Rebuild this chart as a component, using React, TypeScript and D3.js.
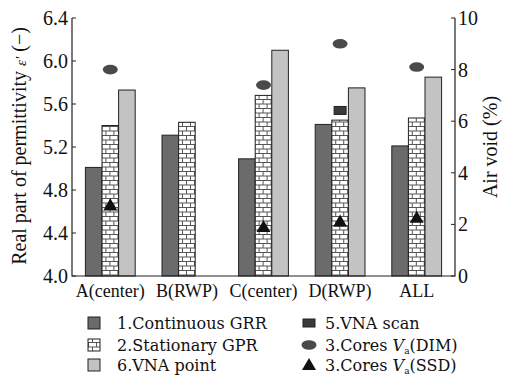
import * as React from 'react';
import * as d3 from 'd3';

const groups = ['A(center)', 'B(RWP)', 'C(center)', 'D(RWP)', 'ALL'];
const continuousGRR = [5.01, 5.31, 5.09, 5.41, 5.21];
const stationaryGPR = [5.4, 5.43, 5.68, 5.45, 5.47];
const vnaPoint: (number | null)[] = [5.73, null, 6.1, 5.75, 5.85];
const vnaScan: (number | null)[] = [null, null, null, 5.54, null];
const coresDIM: (number | null)[] = [8.0, null, 7.4, 9.0, 8.1];
const coresSSD: (number | null)[] = [2.7, null, 1.86, 2.07, 2.22];
const leftTicks = [4.0, 4.4, 4.8, 5.2, 5.6, 6.0, 6.4];
const rightTicks = [0, 2, 4, 6, 8, 10];

const W = 505;
const H = 375;
const left = 72;
const right = 455;
const top = 18;
const bottom = 276;
const serif = '"Liberation Serif", "Times New Roman", serif';

const App = () => {
  const x0 = d3.scaleBand().domain(groups).range([left, right]).paddingInner(0.35).paddingOuter(0.175);
  const x1 = d3.scaleBand().domain(['0', '1', '2']).range([0, x0.bandwidth()]);
  const y = d3.scaleLinear().domain([4.0, 6.4]).range([bottom, top]);
  const y2 = d3.scaleLinear().domain([0, 10]).range([bottom, top]);
  const tri = d3.symbol(d3.symbolTriangle, 85)() as string;

  const series = [
    { vals: continuousGRR, fill: '#6b6b6b' },
    { vals: stationaryGPR, fill: 'url(#brick)' },
    { vals: vnaPoint, fill: '#c3c3c3' }
  ];

  return (
    <svg width={W} height={H} style={{ position: 'absolute', left: 0, top: 0, background: '#fff' }}>
      <defs>
        <pattern id="brick" patternUnits="userSpaceOnUse" width={8} height={9}>
          <rect width={8} height={9} fill="#fff" />
          <path d="M0,0.5H8M0,5H8M0.5,0.5V5M4.5,5V9.5" stroke="#555" strokeWidth={1} fill="none" />
        </pattern>
      </defs>

      {groups.map((g, gi) => (
        <g key={g} transform={`translate(${x0(g)},0)`}>
          {series.map((s, si) => {
            const v = s.vals[gi];
            if (v == null) return null;
            return (
              <rect
                key={si}
                x={x1(String(si))}
                y={y(v)}
                width={x1.bandwidth()}
                height={bottom - y(v)}
                fill={s.fill}
                stroke="#222"
                strokeWidth={1}
              />
            );
          })}
          {vnaScan[gi] != null && (
            <rect
              x={(x1('1') as number) + x1.bandwidth() / 2 - 6}
              y={y(vnaScan[gi] as number) - 4}
              width={12}
              height={8}
              fill="#3a3a3a"
              stroke="#222"
            />
          )}
          {coresDIM[gi] != null && (
            <ellipse
              cx={(x1('1') as number) + x1.bandwidth() / 2}
              cy={y2(coresDIM[gi] as number)}
              rx={7.5}
              ry={4.8}
              fill="#4a4a4a"
            />
          )}
          {coresSSD[gi] != null && (
            <path
              d={tri}
              transform={`translate(${(x1('1') as number) + x1.bandwidth() / 2},${y2(coresSSD[gi] as number)})`}
              fill="#111"
            />
          )}
          <text
            x={x0.bandwidth() / 2}
            y={297}
            textAnchor="middle"
            fontFamily={serif}
            fontSize={18}
            fill="#111"
          >
            {g}
          </text>
        </g>
      ))}

      {/* axes */}
      <path d={`M${left},${top}V${bottom}H${right}V${top}`} fill="none" stroke="#222" strokeWidth={1.2} />
      {leftTicks.map(t => (
        <g key={t}>
          <line x1={left} x2={left + 4} y1={y(t)} y2={y(t)} stroke="#222" />
          <text x={68} y={y(t)} dy="0.35em" textAnchor="end" fontFamily={serif} fontSize={20} fill="#111">
            {t.toFixed(1)}
          </text>
        </g>
      ))}
      {rightTicks.map(t => (
        <g key={t}>
          <line x1={right - 4} x2={right} y1={y2(t)} y2={y2(t)} stroke="#222" />
          <text x={458} y={y2(t)} dy="0.35em" textAnchor="start" fontFamily={serif} fontSize={20} fill="#111">
            {t}
          </text>
        </g>
      ))}

      <text
        transform="translate(26,146) rotate(-90)"
        textAnchor="middle"
        fontFamily={serif}
        fontSize={20}
        fill="#111"
      >
        Real part of permittivity{' '}
        <tspan fontStyle="italic" fontSize={15}>ε′</tspan> (−)
      </text>
      <text
        transform="translate(497,147) rotate(-90)"
        textAnchor="middle"
        fontFamily={serif}
        fontSize={20}
        fill="#111"
      >
        Air void (%)
      </text>

      {/* legend */}
      <g fontFamily={'"DejaVu Serif", serif'} fontSize={16} fill="#111">
        <rect x={88} y={317} width={12} height={12} fill="#6b6b6b" stroke="#222" />
        <text x={117} y={329}>1.Continuous GRR</text>
        <rect x={88} y={339} width={12} height={12} fill="url(#brick)" stroke="#222" />
        <text x={117} y={351}>2.Stationary GPR</text>
        <rect x={88} y={359} width={12} height={12} fill="#c3c3c3" stroke="#222" />
        <text x={117} y={371}>6.VNA point</text>

        <rect x={303} y={319} width={12} height={8} fill="#3a3a3a" stroke="#222" />
        <text x={325} y={329}>5.VNA scan</text>
        <ellipse cx={309} cy={345} rx={7.5} ry={4.8} fill="#4a4a4a" />
        <text x={325} y={351}>
          3.Cores <tspan fontStyle="italic">V</tspan>
          <tspan fontSize={9} dy={3}>a</tspan>
          <tspan dy={-3}>(DIM)</tspan>
        </text>
        <path d={tri} transform="translate(309,366)" fill="#111" />
        <text x={325} y={371}>
          3.Cores <tspan fontStyle="italic">V</tspan>
          <tspan fontSize={9} dy={3}>a</tspan>
          <tspan dy={-3}>(SSD)</tspan>
        </text>
      </g>
    </svg>
  );
};

export default App;
